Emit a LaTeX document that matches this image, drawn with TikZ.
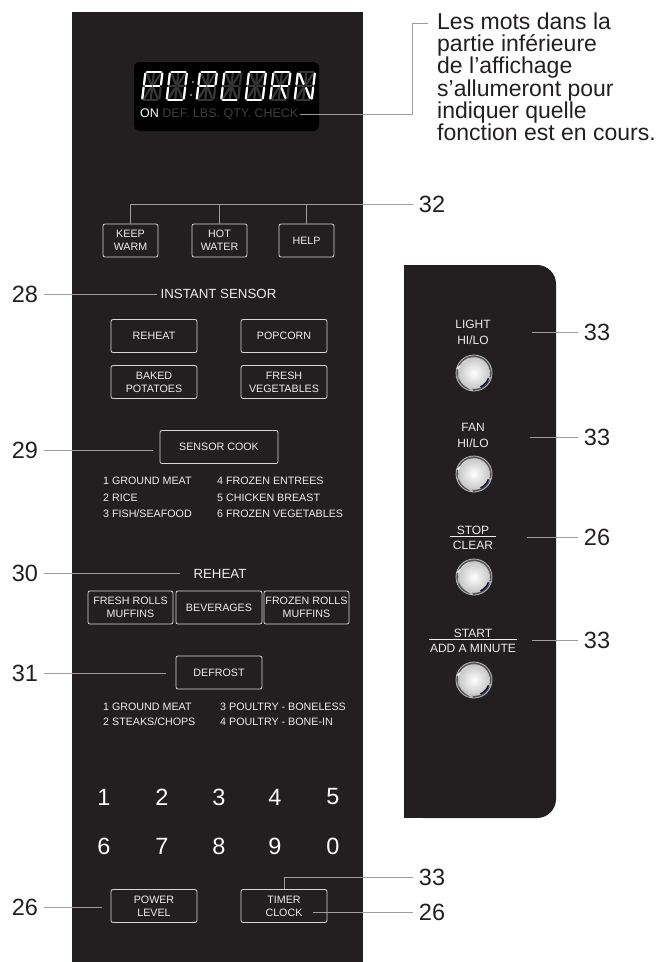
\documentclass[tikz,border=0pt]{standalone}
\usepackage{fontspec}
\setmainfont{Liberation Sans}
\usetikzlibrary{positioning}
\definecolor{panelColor}{HTML}{231F20}
\definecolor{labelColor}{HTML}{231F20}
\definecolor{leaderGray}{HTML}{9D9D9D}
\definecolor{buttonLine}{HTML}{D6D6D6}
\definecolor{panelText}{HTML}{EDEDED}
\definecolor{segDim}{HTML}{363636}
\definecolor{wordDim}{HTML}{3E3E3E}
\definecolor{knobRimColor}{HTML}{555555}
\tikzstyle{controlPanel} = [x=1pt, y=-1pt]
\tikzstyle{buttonStyle} = [draw=buttonLine, line width=.8pt, rounded corners=2pt, text=panelText, align=center, minimum height=33, inner sep=0pt, font=\fontsize{10.7}{13}\selectfont]
\tikzstyle{panelTitle} = [text=panelText, inner sep=3pt, font=\fontsize{13.3}{14}\selectfont]
\tikzstyle{listText} = [text=panelText, anchor=west, inner sep=0pt, text height=7.7, text depth=0, font=\fontsize{10.7}{12}\selectfont]
\tikzstyle{keyText} = [text=white, font=\fontsize{23.5}{24}\selectfont]
\tikzstyle{calloutNum} = [text=labelColor, inner sep=6pt, font=\fontsize{23.5}{24}\selectfont]
\tikzstyle{leaderLine} = [color=leaderGray, line width=.9pt]
\tikzstyle{knobLabel} = [text=panelText, align=center, inner xsep=1pt, inner ysep=4pt, font=\fontsize{12}{16}\selectfont]
\tikzstyle{labelRule} = [draw=panelText, line width=1pt]
\tikzstyle{segOff} = [color=segDim, line width=2.2pt, line cap=round]
\tikzstyle{segOn} = [color=white, line width=2.2pt, line cap=round]
\tikzstyle{knobRim} = [circle, fill=knobRimColor, draw=gray!55, line width=.8pt, minimum size=36, inner sep=0pt]
\tikzstyle{knobFace} = [inner color=white, outer color=gray!45]
\newcommand{\segA}[1]{\draw[#1] (1.5,0) -- (15.5,0);}
\newcommand{\segB}[1]{\draw[#1] (17,1.5) -- (17,12.5);}
\newcommand{\segC}[1]{\draw[#1] (17,15.5) -- (17,26.5);}
\newcommand{\segD}[1]{\draw[#1] (1.5,28) -- (15.5,28);}
\newcommand{\segE}[1]{\draw[#1] (0,15.5) -- (0,26.5);}
\newcommand{\segF}[1]{\draw[#1] (0,1.5) -- (0,12.5);}
\newcommand{\segG}[1]{\draw[#1] (1.5,14) -- (7.5,14);}
\newcommand{\segH}[1]{\draw[#1] (9.5,14) -- (15.5,14);}
\newcommand{\segI}[1]{\draw[#1] (8.5,1.5) -- (8.5,12.5);}
\newcommand{\segJ}[1]{\draw[#1] (8.5,15.5) -- (8.5,26.5);}
\newcommand{\segK}[1]{\draw[#1] (2,2) -- (7,12);}
\newcommand{\segL}[1]{\draw[#1] (15,2) -- (10,12);}
\newcommand{\segM}[1]{\draw[#1] (7,16) -- (2,26);}
\newcommand{\segN}[1]{\draw[#1] (10,16) -- (15,26);}
\newcommand{\segChar}[2]{
  \begin{scope}[shift={(#1,72)}, xslant=.12]
    \foreach \segName in {A,B,C,D,E,F,G,H,I,J,K,L,M,N} {\csname seg\segName\endcsname{segOff}}
    \foreach \segName in {#2} {\csname seg\segName\endcsname{segOn}}
  \end{scope}
}
\newcommand{\panelButton}[4]{\node[buttonStyle, minimum width=#3] (#1) at (#2) {#4};}
\newcommand{\knob}[3]{
  \node[knobRim] (#1) at (#2,#3) {};
  \shade[knobFace] (#1) circle (15.8);
  \fill[white, opacity=.9] (#1) -- +(195:15.8) -- +(222:15.8) -- +(250:15.8) -- cycle;
  \fill[gray!65, opacity=.7] (#1) -- +(158:15.8) -- +(170:15.8) -- +(183:15.8) -- cycle;
  \fill[gray!35, opacity=.7] (#1) -- +(15:15.8) -- +(40:15.8) -- +(65:15.8) -- cycle;
  \fill[white, opacity=.6] (#1) -- +(95:15.8) -- +(110:15.8) -- +(125:15.8) -- cycle;
  \draw[gray!40!blue!30!black, line width=1.6pt] (#1) ++(20:15.8) -- +(0,0) (#1) +(20:15.5) -- +(35:15.5) -- +(50:15.5) -- +(65:15.5);
}

\begin{document}
\begin{tikzpicture}[controlPanel]
\useasboundingbox (0,0) rectangle (665,962);
\fill[panelColor] (72,12) rectangle (363,962);
\fill[panelColor, rounded corners=19] (404,265) rectangle (556,818);
\fill[panelColor] (404,265) rectangle (500,818);
\fill[black, rounded corners=6] (134,62) rectangle (319,131);
\segChar{145.5}{A,B,F,G,H,E}
\segChar{170}{A,B,C,D,E,F}
\fill[gray!70] (193,82) circle (1.2) (191,95) circle (1.2);
\segChar{200}{A,B,F,G,H,E}
\segChar{224.5}{A,D,E,F}
\segChar{249}{A,B,C,D,E,F}
\segChar{273.5}{A,B,F,G,H,E,N}
\segChar{298}{F,E,B,C,K,N}
\node[anchor=west, inner sep=1pt, font=\fontsize{12.5}{13}\selectfont] (dispWords) at (139,114) {\textcolor{white}{ON} \textcolor{wordDim}{DEF. LBS. QTY. CHECK}};
\node[anchor=north west, align=left, text=labelColor, inner xsep=9pt, inner ysep=0pt, font=\fontsize{23}{21.3}\selectfont] (noteText) at (428,13) {Les mots dans la\\partie inférieure\\de l’affichage\\s’allumeront pour\\indiquer quelle\\fonction est en cours.};
\coordinate (noteBend) at (412,23);
\draw[leaderLine] (dispWords.east) -| (noteBend) -- (noteBend -| noteText.west);

\panelButton{keepWarm}{130.5,240.5}{55}{KEEP\\WARM}
\panelButton{hotWater}{219.5,240.5}{55}{HOT\\WATER}
\panelButton{help}{306.5,240.5}{55}{HELP}
\node[calloutNum] (n32) at (432,204) {32};
\draw[leaderLine] (n32.west) -| (keepWarm.north);
\draw[leaderLine] (hotWater.north) -- (hotWater.north |- n32.west);
\draw[leaderLine] (help.north) -- (help.north |- n32.west);

\node[panelTitle] (instSensor) at (218.5,294) {INSTANT SENSOR};
\node[calloutNum] (n28) at (25,294) {28};
\draw[leaderLine] (n28.east) -- (instSensor.west);
\panelButton{reheat}{154,336}{86}{REHEAT}
\panelButton{popcorn}{284,336}{86}{POPCORN}
\panelButton{bakedPotatoes}{154,382}{86}{BAKED\\POTATOES}
\panelButton{freshVeg}{284,382}{86}{FRESH\\VEGETABLES}

\panelButton{sensorCook}{219,447}{118}{SENSOR COOK}
\node[calloutNum] (n29) at (25,450) {29};
\draw[leaderLine, shorten >=7pt] (n29.east) -- (sensorCook.west |- n29.east);
\node[listText] (sc1) at (103,481) {1 GROUND MEAT};
\node[listText] (sc2) at (103,498) {2 RICE};
\node[listText] (sc3) at (103,514) {3 FISH/SEAFOOD};
\node[listText] (sc4) at (217,481) {4 FROZEN ENTREES};
\node[listText] (sc5) at (217,498) {5 CHICKEN BREAST};
\node[listText] (sc6) at (217,514) {6 FROZEN VEGETABLES};

\node[panelTitle] (reheatTitle) at (220,574) {REHEAT};
\node[calloutNum] (n30) at (25,573) {30};
\draw[leaderLine, shorten >=10pt] (n30.east) -- (reheatTitle.west |- n30.east);
\panelButton{freshRolls}{130.5,607.5}{85}{FRESH ROLLS\\MUFFINS}
\panelButton{beverages}{219,607.5}{86}{BEVERAGES}
\panelButton{frozenRolls}{306.5,607.5}{85}{FROZEN ROLLS\\MUFFINS}

\panelButton{defrost}{219,672.5}{86}{DEFROST}
\node[calloutNum] (n31) at (25,673) {31};
\draw[leaderLine, shorten >=10pt] (n31.east) -- (defrost.west |- n31.east);
\node[listText] (df1) at (103,707) {1 GROUND MEAT};
\node[listText] (df2) at (103,722) {2 STEAKS/CHOPS};
\node[listText] (df3) at (220,707) {3 POULTRY - BONELESS};
\node[listText] (df4) at (220,722) {4 POULTRY - BONE-IN};

\foreach \k/\kx in {1/104,2/162,3/219,4/275,5/333} \node[keyText] (key\k) at (\kx,797) {\k};
\foreach \k/\kx in {6/104,7/162,8/219,9/275,0/333} \node[keyText] (key\k) at (\kx,846) {\k};

\panelButton{powerLevel}{154,906}{86}{POWER\\LEVEL}
\panelButton{timerClock}{284,906}{86}{TIMER\\CLOCK}
\node[calloutNum] (n26a) at (25,907) {26};
\draw[leaderLine, shorten >=9pt] (n26a.east) -- (powerLevel.west |- n26a.east);
\node[calloutNum] (n33e) at (432,877) {33};
\draw[leaderLine] (n33e.west) -| (timerClock.north);
\node[calloutNum] (n26b) at (432,912) {26};
\coordinate (clockTip) at (313,912);
\draw[leaderLine] (n26b.west) -- (clockTip);

\node[knobLabel] (lightLabel) at (473,332.3) {LIGHT\\HI/LO};
\knob{lightKnob}{474}{373}
\node[knobLabel] (fanLabel) at (473,435.8) {FAN\\HI/LO};
\knob{fanKnob}{474}{474}
\node[knobLabel] (stopLabel) at (473,530) {STOP};
\node[knobLabel, inner xsep=2.5pt] (clearLabel) at (473,545) {CLEAR};
\draw[labelRule] (clearLabel.north west) -- (clearLabel.north east);
\knob{stopKnob}{474}{577}
\node[knobLabel] (startLabel) at (473,633) {START};
\node[knobLabel, inner xsep=.7pt] (addLabel) at (473,648) {ADD A MINUTE};
\draw[labelRule] (addLabel.north west) -- (addLabel.north east);
\knob{startKnob}{474}{680}

\node[calloutNum] (n33a) at (597,332) {33};
\coordinate (lightTip) at (532,332);
\draw[leaderLine] (n33a.west) -- (lightTip);
\node[calloutNum] (n33b) at (597,437) {33};
\coordinate (fanTip) at (530,437);
\draw[leaderLine] (n33b.west) -- (fanTip);
\node[calloutNum] (n26c) at (597,537) {26};
\coordinate (stopTip) at (527,537);
\draw[leaderLine] (n26c.west) -- (stopTip);
\node[calloutNum] (n33c) at (597,640) {33};
\coordinate (startTip) at (532,640);
\draw[leaderLine] (n33c.west) -- (startTip);
\end{tikzpicture}
\end{document}
